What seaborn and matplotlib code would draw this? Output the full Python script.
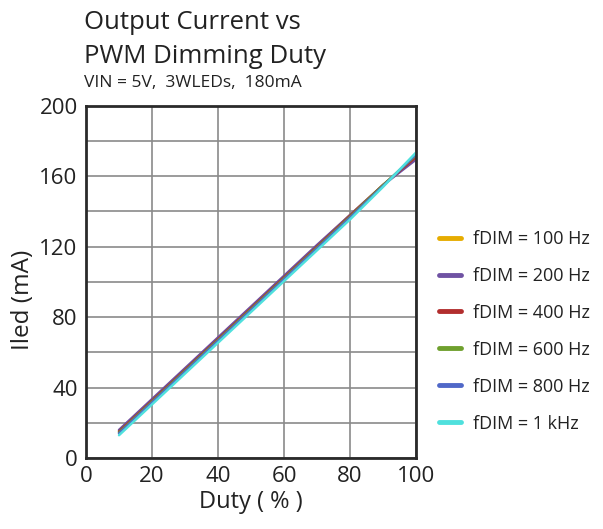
import numpy as np
import pandas as pd
import matplotlib
matplotlib.use("Agg")
import matplotlib.pyplot as plt
import seaborn as sns

duty = [10, 20, 30, 40, 50, 60, 70, 80, 90, 100]
series_names = ["fDIM = 100 Hz", "fDIM = 200 Hz", "fDIM = 400 Hz",
                "fDIM = 600 Hz", "fDIM = 800 Hz", "fDIM = 1 kHz"]
i_100 = [15.5, 33.0, 50.5, 68.0, 85.5, 103.0, 120.5, 138.0, 155.0, 171.0]
i_200 = [16.0, 33.5, 51.0, 68.5, 86.0, 103.5, 121.0, 138.0, 155.0, 169.5]
i_400 = [15.0, 32.5, 50.0, 67.5, 85.0, 102.5, 120.0, 137.5, 155.0, 171.0]
i_600 = [14.5, 32.0, 49.5, 67.0, 84.5, 102.0, 119.5, 137.0, 155.0, 172.0]
i_800 = [14.0, 31.5, 49.0, 66.5, 84.0, 101.5, 119.0, 136.5, 154.5, 172.5]
i_1k = [13.0, 30.5, 48.0, 65.5, 83.0, 100.5, 118.0, 135.5, 154.0, 173.5]
colors = ["#E6AC00", "#6F52A3", "#B22E2E", "#6FA02E", "#5068C8", "#4FE0DD"]

x_ticks = [0, 20, 40, 60, 80, 100]
y_ticks = [0, 40, 80, 120, 160, 200]

values = [i_100, i_200, i_400, i_600, i_800, i_1k]
df = pd.DataFrame({
    "Duty": np.tile(duty, len(series_names)),
    "Iled": np.concatenate(values),
    "Series": np.repeat(series_names, len(duty)),
})

sns.set_style("white")
plt.rcParams["font.family"] = ["Open Sans", "DejaVu Sans"]

fig = plt.figure(figsize=(6.03, 5.29), dpi=100)
ax = fig.add_axes([0.1426, 0.134, 0.5474, 0.666])

sns.lineplot(data=df, x="Duty", y="Iled", hue="Series", palette=colors,
             hue_order=series_names, linewidth=1.8, ax=ax, legend=True)

ax.set_xlim(0, 100)
ax.set_ylim(0, 200)
ax.set_xticks(x_ticks)
ax.set_yticks(y_ticks)
ax.set_yticks(np.arange(0, 201, 20), minor=True)
ax.set_xticks(np.arange(0, 101, 20), minor=True)
ax.grid(True, which="both", color="#8a8a8a", linewidth=1.2)
ax.set_axisbelow(True)
ax.tick_params(axis="both", which="both", length=0, labelsize=16, colors="#222222", pad=6)
for s in ax.spines.values():
    s.set_color("#2a2a2a")
    s.set_linewidth(2)

ax.set_xlabel("Duty ( % )", fontsize=17, color="#222222", labelpad=2)
ax.set_ylabel("Iled (mA)", fontsize=17.5, color="#222222")
ax.yaxis.set_label_coords(-0.155, 0.45)

leg = ax.legend(loc="center left", bbox_to_anchor=(1.02, 0.36), frameon=False,
                fontsize=13, handlelength=1.2, handletextpad=0.7, labelspacing=1.05)
for line in leg.get_lines():
    line.set_linewidth(3.5)
for t in leg.get_texts():
    t.set_color("#222222")

fig.text(0.139, 0.945, "Output Current vs", fontsize=18.5, color="#222222", va="baseline")
fig.text(0.139, 0.880, "PWM Dimming Duty", fontsize=18.5, color="#222222", va="baseline")
fig.text(0.139, 0.836, "VIN = 5V,  3WLEDs,  180mA", fontsize=12.5, color="#222222", va="baseline")

fig.savefig("out.png", dpi=100, facecolor="white")
